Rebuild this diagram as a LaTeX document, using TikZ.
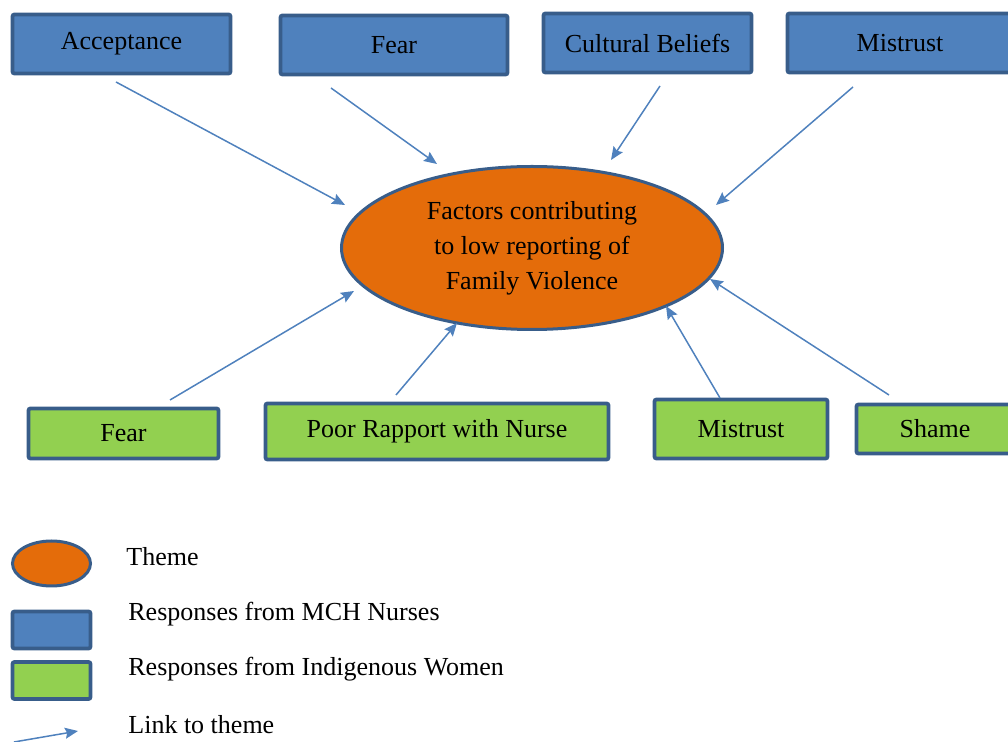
\documentclass[tikz,border=0pt]{standalone}
\usepackage{fontspec}
\setmainfont{Liberation Serif}
\definecolor{nurseblue}{RGB}{79, 129, 189}
\definecolor{boxedge}{RGB}{56, 93, 138}
\definecolor{womengreen}{RGB}{146, 208, 80}
\definecolor{themeorange}{RGB}{228, 108, 10}
\definecolor{linkblue}{RGB}{79, 129, 189}
\usetikzlibrary{shapes.geometric, arrows.meta, positioning, calc}

\tikzset{
  every node/.style={font=\fontsize{13}{17.5}\selectfont},
  nursebox/.style={draw=boxedge, fill=nurseblue, line width=1.9pt, rounded corners=1pt, inner sep=0pt, minimum height=29.5pt},
  womenbox/.style={draw=boxedge, fill=womengreen, line width=1.9pt, rounded corners=1pt, inner sep=0pt},
  themenode/.style={ellipse, draw=boxedge, fill=themeorange, line width=1.5pt, inner sep=0pt, align=center},
  link/.style={draw=linkblue, line width=0.75pt, -{Stealth[length=6.5pt, width=5.5pt, inset=1pt]}},
  legendtext/.style={anchor=west, inner sep=0pt}
}

\begin{document}
\begin{tikzpicture}[x=0.5pt, y=-0.5pt]
  \useasboundingbox (0,0) rectangle (1008,742);
  \clip (0,0) rectangle (1008,742);

  % theme
  \node[themenode, minimum width=190.5pt, minimum height=81.5pt] (theme) at (532,248)
    {\raisebox{-2pt}{\begin{tabular}{@{}c@{}}Factors contributing\\to low reporting of\\Family Violence\end{tabular}}};

  % responses from MCH nurses
  \node[nursebox, minimum width=109pt] (acc) at (121.5,44) {Acceptance};
  \node[nursebox, minimum width=113.5pt] (fearN) at (394,45) {Fear};
  \node[nursebox, minimum width=104pt] (cult) at (647.5,43) {Cultural Beliefs};
  \node[nursebox, minimum width=112.5pt] (mistN) at (900,43) {Mistrust};

  % responses from indigenous women
  \node[womenbox, minimum width=95pt, minimum height=25pt] (fearW) at (123.5,433.5) {Fear};
  \node[womenbox, minimum width=171.5pt, minimum height=28pt] (rapp) at (437,431.5) {Poor Rapport with Nurse};
  \node[womenbox, minimum width=86.5pt, minimum height=29.5pt] (mistW) at (741,429) {Mistrust};
  \node[womenbox, minimum width=78.5pt, minimum height=24.5pt] (shame) at (935,429) {Shame};

  % links to theme
  \coordinate (accS) at (116,82);    \coordinate (accT) at (345,205);
  \coordinate (fearNS) at (331,88);  \coordinate (fearNT) at (437,164);
  \coordinate (cultS) at (660,86);   \coordinate (cultT) at (611,160);
  \coordinate (mistNS) at (853,87);  \coordinate (mistNT) at (716,205);
  \coordinate (fearWS) at (170,400); \coordinate (fearWT) at (354,291);
  \coordinate (rappS) at (396,395);  \coordinate (rappT) at (457,323);
  \coordinate (mistWS) at (720,398); \coordinate (mistWT) at (666,306);
  \coordinate (shameS) at (889,395); \coordinate (shameT) at (710,279);
  \foreach \n in {acc, fearN, cult, mistN, fearW, rapp, mistW, shame}
    \draw[link] (\n S) -- (\n T);

  % legend
  \node[themenode, minimum width=39pt, minimum height=22.5pt] (keyTheme) at (51.5,563.5) {};
  \node[nursebox, minimum width=39pt, minimum height=18.5pt] (keyNurse) at (51.5,630) {};
  \node[womenbox, minimum width=39pt, minimum height=18.5pt] (keyWomen) at (51.5,680.5) {};
  \coordinate (keyLinkS) at (14,742);
  \coordinate (keyLinkT) at (78,731);
  \draw[link] (keyLinkS) -- (keyLinkT);

  \node[legendtext] (keyThemeText) at (126,557) {Theme};
  \node[legendtext] (keyNurseText) at (128,614) {Responses from MCH Nurses};
  \node[legendtext] (keyWomenText) at (128,669) {Responses from Indigenous Women};
  \node[legendtext] (keyLinkText) at (128,725) {Link to theme};
\end{tikzpicture}
\end{document}
